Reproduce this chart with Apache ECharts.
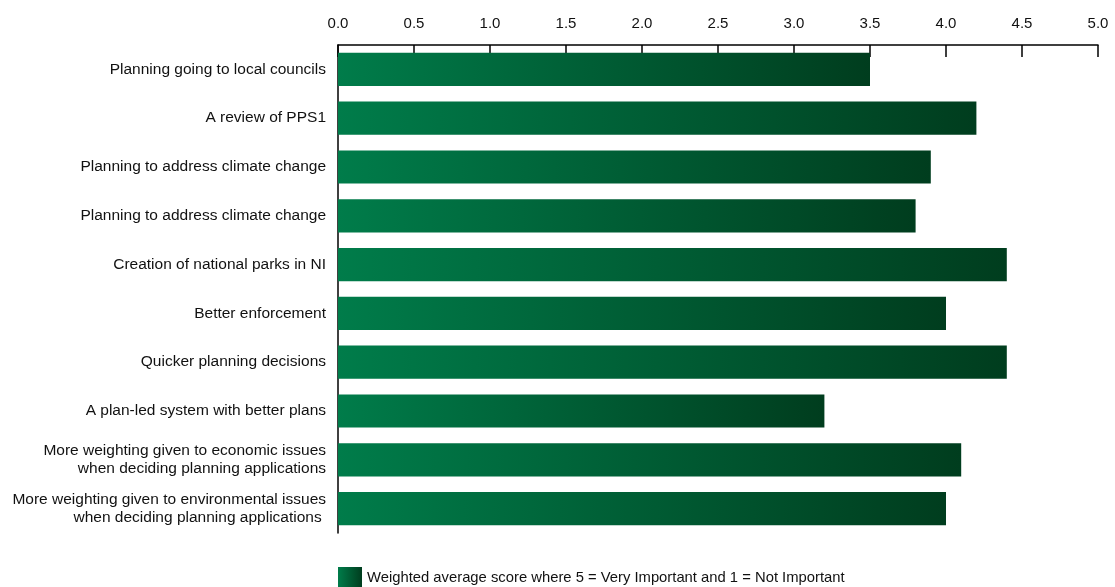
<!DOCTYPE html>
<html><head><meta charset="utf-8">
<script src="https://cdn.jsdelivr.net/npm/echarts@6/dist/echarts.min.js"></script>
<style>html,body{margin:0;padding:0;background:#fff}#c{width:1115px;height:587px}</style>
</head><body><div id="c"></div>
<script>
const categories = [
  "Planning going to local councils",
  "A review of PPS1",
  "Planning to address climate change",
  "Planning to address climate change",
  "Creation of national parks in NI",
  "Better enforcement",
  "Quicker planning decisions",
  "A plan-led system with better plans",
  "More weighting given to economic issues\nwhen deciding planning applications",
  "More weighting given to environmental issues\nwhen deciding planning applications "
];
const values = [3.5, 4.2, 3.9, 3.8, 4.4, 4.0, 4.4, 3.2, 4.1, 4.0];
const seriesName = "Weighted average score where 5 = Very Important and 1 = Not Important";
const FONT = "'Liberation Sans', Arial, sans-serif";
const chart = echarts.init(document.getElementById('c'), null, {renderer: 'canvas'});
const grad = new echarts.graphic.LinearGradient(0, 0, 1, 0, [
  {offset: 0, color: '#007c4a'},
  {offset: 1, color: '#003d1e'}
]);
chart.setOption({
  animation: false,
  backgroundColor: '#fff',
  textStyle: {fontFamily: FONT},
  grid: {left: 338, right: 17, top: 45, bottom: 54, containLabel: false, outerBoundsMode: 'none'},
  legend: {
    left: 333, top: 562, itemWidth: 24, itemHeight: 22, itemGap: 10,
    icon: 'rect',
    textStyle: {fontFamily: FONT, fontSize: 14.8, color: '#111'},
    data: [seriesName]
  },
  xAxis: {
    type: 'value', position: 'top', min: 0, max: 5, interval: 0.5,
    axisLine: {show: true, lineStyle: {color: '#000', width: 1.5}},
    axisTick: {show: true, inside: true, length: 12, lineStyle: {color: '#000', width: 1.5}},
    splitLine: {show: false},
    axisLabel: {fontFamily: FONT, fontSize: 15, color: '#111', margin: 14,
      formatter: v => v.toFixed(1)}
  },
  yAxis: {
    type: 'category', inverse: true, data: categories,
    axisLine: {show: true, lineStyle: {color: '#000', width: 1.5}},
    axisTick: {show: false},
    axisLabel: {fontFamily: FONT, fontSize: 15.5, color: '#111', margin: 12, lineHeight: 18, align: 'right'}
  },
  series: [{
    name: seriesName, type: 'bar', data: values,
    barCategoryGap: '32%',
    itemStyle: {color: grad}
  }]
});
</script></body></html>
